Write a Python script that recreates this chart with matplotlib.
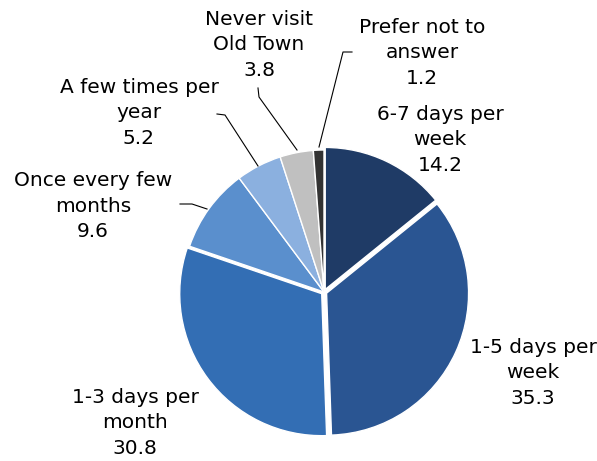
import matplotlib.pyplot as plt

labels = ['6-7 days per\nweek', '1-5 days per\nweek', '1-3 days per\nmonth',
          'Once every few\nmonths', 'A few times per\nyear', 'Never visit\nOld Town',
          'Prefer not to\nanswer']
values = [14.2, 35.3, 30.8, 9.6, 5.2, 3.8, 1.2]
colors = ['#1f3b66', '#2a5592', '#336eb4', '#5a8fcd', '#8bb0df', '#c0c0c0', '#333333']
explode = [0.02, 0.02, 0.02, 0, 0, 0, 0]

# label centres in pixel coords
label_pos = [(440, 140), (533, 373), (135, 423), (93, 206), (139, 113), (259, 45), (422, 53)]
leaders = {
  3: [(180, 204), (192, 204), (207, 209)],
  4: [(217, 114), (225, 115), (258, 166)],
  5: [(258, 88), (259, 97), (297, 150)],
  6: [(352, 52), (343, 52), (319, 147)],
}

W, H = 597, 461
CX, CY, R = 324, 292, 142

def px(x, y):
  return (x - CX) / R, (CY - y) / R

fig = plt.figure(figsize=(W / 100, H / 100), dpi=100)
ax = fig.add_axes([0, 0, 1, 1])

ax.pie(values, colors=colors, explode=explode, startangle=90, counterclock=False,
       radius=1, wedgeprops=dict(edgecolor='white', linewidth=1))

ax.set_xlim(-CX / R, (W - CX) / R)
ax.set_ylim(-(H - CY) / R, CY / R)
ax.set_aspect('equal')
ax.axis('off')

for i, (lab, v) in enumerate(zip(labels, values)):
  x, y = px(*label_pos[i])
  ax.text(x, y, '{}\n{:.1f}'.format(lab, v), ha='center', va='center',
          fontsize=14.5, linespacing=1.42, color='black')

for i, pts in leaders.items():
  xs = [px(*p)[0] for p in pts]
  ys = [px(*p)[1] for p in pts]
  ax.plot(xs, ys, color='black', lw=0.8)

fig.savefig('out.png', dpi=100)
